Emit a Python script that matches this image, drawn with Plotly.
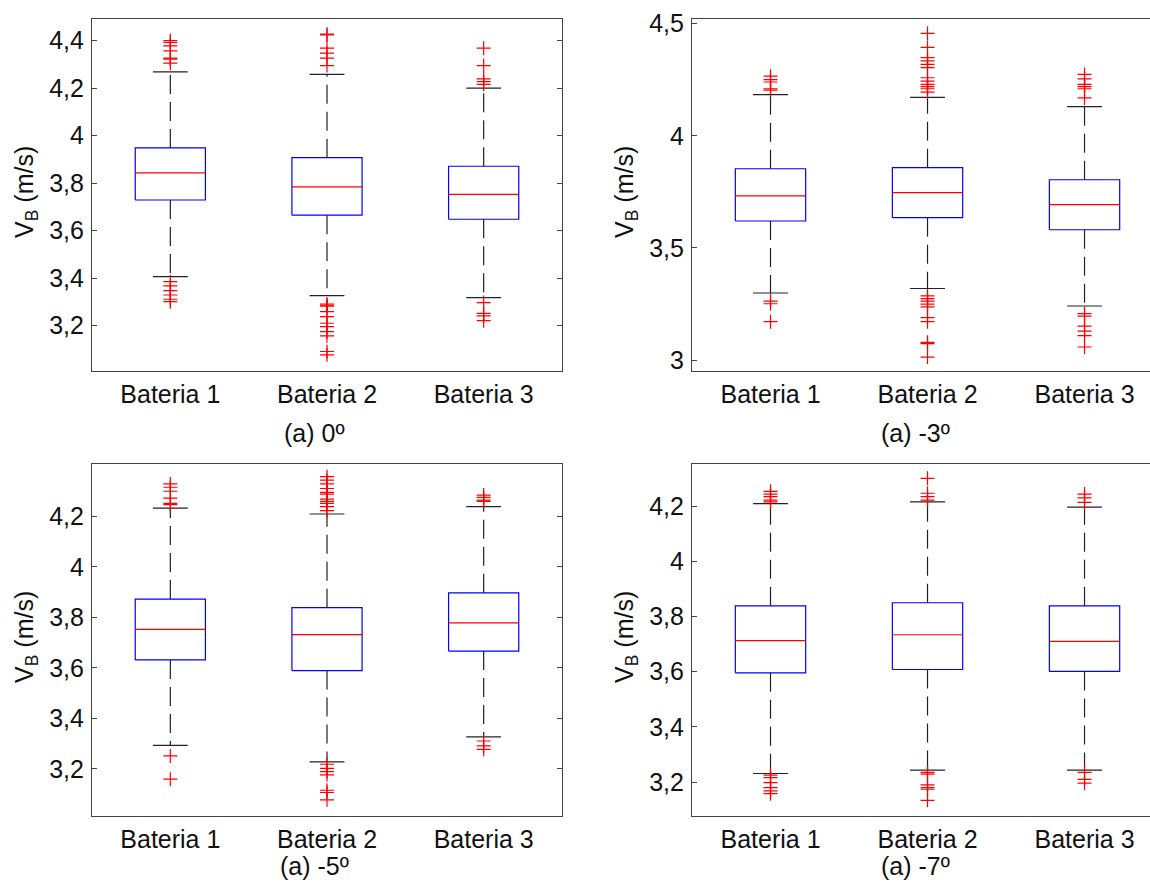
import plotly.graph_objects as go

# ---------------- data ----------------
categories = ["Bateria 1", "Bateria 2", "Bateria 3"]
titles = ["(a) 0º", "(a) -3º", "(a) -5º", "(a) -7º"]

# Panel (a) 0º
p0_q1 = [3.729, 3.665, 3.648]
p0_median = [3.843, 3.784, 3.753]
p0_q3 = [3.948, 3.907, 3.871]
p0_lower = [3.406, 3.326, 3.318]
p0_upper = [4.268, 4.258, 4.200]
p0_out1 = [4.400, 4.392, 4.378, 4.357, 4.326, 4.322, 4.305, 3.385, 3.367, 3.347, 3.329, 3.311, 3.301]
p0_out2 = [4.427, 4.424, 4.368, 4.347, 4.326, 4.295, 3.291, 3.286, 3.282, 3.259, 3.238, 3.210, 3.196,
           3.175, 3.157, 3.091, 3.077]
p0_out3 = [4.368, 4.295, 4.239, 4.227, 4.216, 3.297, 3.252, 3.241, 3.221]

# Panel (a) -3º
p1_q1 = [3.620, 3.635, 3.581]
p1_median = [3.732, 3.747, 3.693]
p1_q3 = [3.853, 3.858, 3.804]
p1_lower = [3.299, 3.319, 3.241]
p1_upper = [4.184, 4.171, 4.130]
p1_out1 = [4.266, 4.251, 4.240, 4.210, 4.204, 3.263, 3.251, 3.171]
p1_out2 = [4.457, 4.394, 4.349, 4.334, 4.319, 4.304, 4.259, 4.244, 4.229, 4.219, 4.210, 4.195,
           3.286, 3.274, 3.263, 3.249, 3.237, 3.189, 3.171, 3.079, 3.073, 3.013]
p1_out3 = [4.274, 4.254, 4.229, 4.219, 4.210, 4.169, 3.207, 3.196, 3.151, 3.129, 3.109, 3.058]

# Panel (a) -5º
p2_q1 = [3.631, 3.589, 3.666]
p2_median = [3.752, 3.731, 3.778]
p2_q3 = [3.872, 3.838, 3.897]
p2_lower = [3.293, 3.227, 3.326]
p2_upper = [4.232, 4.209, 4.238]
p2_out1 = [4.328, 4.315, 4.299, 4.272, 4.251, 4.246, 3.251, 3.159]
p2_out2 = [4.357, 4.343, 4.328, 4.310, 4.295, 4.288, 4.268, 4.259, 4.251, 4.238, 4.222,
           3.218, 3.202, 3.189, 3.176, 3.115, 3.106, 3.077]
p2_out3 = [4.284, 4.275, 4.264, 4.259, 3.310, 3.291, 3.277]

# Panel (a) -7º
p3_q1 = [3.596, 3.608, 3.601]
p3_median = [3.713, 3.734, 3.710]
p3_q3 = [3.839, 3.850, 3.839]
p3_lower = [3.231, 3.243, 3.243]
p3_upper = [4.209, 4.216, 4.197]
p3_out1 = [4.254, 4.244, 4.235, 4.222, 4.216, 3.225, 3.216, 3.198, 3.180, 3.168, 3.158]
p3_out2 = [4.301, 4.247, 4.235, 4.222, 3.235, 3.229, 3.190, 3.180, 3.174, 3.134]
p3_out3 = [4.244, 4.230, 4.214, 3.235, 3.210, 3.196]

# tick labels
p0_ticks = [3.2, 3.4, 3.6, 3.8, 4.0, 4.2, 4.4]
p0_ticktext = ["3,2", "3,4", "3,6", "3,8", "4", "4,2", "4,4"]
p1_ticks = [3.0, 3.5, 4.0, 4.5]
p1_ticktext = ["3", "3,5", "4", "4,5"]
p2_ticks = [3.2, 3.4, 3.6, 3.8, 4.0, 4.2]
p2_ticktext = ["3,2", "3,4", "3,6", "3,8", "4", "4,2"]
p3_ticks = [3.2, 3.4, 3.6, 3.8, 4.0, 4.2]
p3_ticktext = ["3,2", "3,4", "3,6", "3,8", "4", "4,2"]

panels = [
    dict(q1=p0_q1, med=p0_median, q3=p0_q3, lo=p0_lower, hi=p0_upper,
         out=[p0_out1, p0_out2, p0_out3], ticks=p0_ticks, ticktext=p0_ticktext),
    dict(q1=p1_q1, med=p1_median, q3=p1_q3, lo=p1_lower, hi=p1_upper,
         out=[p1_out1, p1_out2, p1_out3], ticks=p1_ticks, ticktext=p1_ticktext),
    dict(q1=p2_q1, med=p2_median, q3=p2_q3, lo=p2_lower, hi=p2_upper,
         out=[p2_out1, p2_out2, p2_out3], ticks=p2_ticks, ticktext=p2_ticktext),
    dict(q1=p3_q1, med=p3_median, q3=p3_q3, lo=p3_lower, hi=p3_upper,
         out=[p3_out1, p3_out2, p3_out3], ticks=p3_ticks, ticktext=p3_ticktext),
]

# ---------------- layout / style ----------------
W, H = 1150, 882
FONT = "Liberation Sans, Arial, sans-serif"
FS = 25
TXT = "#111111"
AX = "#444444"
BOX_HALF = 0.224
CAP_HALF = 0.111

y_ranges = [[3.009, 4.491], [2.951, 4.521], [3.013, 4.407], [3.077, 4.353]]
x_ranges = [[0.5, 3.5], [0.5, 3.417], [0.5, 3.5], [0.5, 3.417]]
# pixel boxes (left, right, top, bottom)
px = [(92, 562, 19, 371), (692, 1150, 19, 371), (92, 562, 464, 816), (692, 1150, 464, 816)]
caption_pos = [(315, 433), (915, 433), (315, 866), (915, 866)]

fig = go.Figure()
layout = dict(
    width=W, height=H, margin=dict(l=0, r=0, t=0, b=0, pad=0, autoexpand=False),
    autosize=False,
    paper_bgcolor="white", plot_bgcolor="white", showlegend=False,
    font=dict(family=FONT, size=FS, color=TXT),
    separators=", ",
)

annotations = []
for k, p in enumerate(panels):
    xa = "x" if k == 0 else f"x{k+1}"
    ya = "y" if k == 0 else f"y{k+1}"
    xs = [1, 2, 3]
    bx, by, mx, my, wx, wy, cx, cy, ox, oy = [], [], [], [], [], [], [], [], [], []
    for i, xc in enumerate(xs):
        q1, md, q3, lo, hi = p["q1"][i], p["med"][i], p["q3"][i], p["lo"][i], p["hi"][i]
        bx += [xc - BOX_HALF, xc + BOX_HALF, xc + BOX_HALF, xc - BOX_HALF, xc - BOX_HALF, None]
        by += [q1, q1, q3, q3, q1, None]
        mx += [xc - BOX_HALF, xc + BOX_HALF, None]
        my += [md, md, None]
        wx += [xc, xc, None, xc, xc, None]
        wy += [q3, hi, None, q1, lo, None]
        cx += [xc - CAP_HALF, xc + CAP_HALF, None, xc - CAP_HALF, xc + CAP_HALF, None]
        cy += [hi, hi, None, lo, lo, None]
        ox += [xc] * len(p["out"][i])
        oy += p["out"][i]
    fig.add_trace(go.Scatter(x=wx, y=wy, mode="lines", xaxis=xa, yaxis=ya,
                             line=dict(color="#222222", width=1.2, dash="19px,8px"), hoverinfo="skip"))
    fig.add_trace(go.Scatter(x=cx, y=cy, mode="lines", xaxis=xa, yaxis=ya,
                             line=dict(color="#222222", width=1.2), hoverinfo="skip"))
    fig.add_trace(go.Scatter(x=bx, y=by, mode="lines", xaxis=xa, yaxis=ya,
                             line=dict(color="#0000ff", width=1.2), hoverinfo="skip"))
    fig.add_trace(go.Scatter(x=mx, y=my, mode="lines", xaxis=xa, yaxis=ya,
                             line=dict(color="#ff0000", width=1.2), hoverinfo="skip"))
    fig.add_trace(go.Scatter(x=ox, y=oy, mode="markers", xaxis=xa, yaxis=ya,
                             marker=dict(symbol="cross-thin", size=10,
                                         line=dict(color="#ff0000", width=1.2)),
                             hoverinfo="skip"))

    l, r, t, b = px[k]
    right_col = k in (1, 3)
    xkey = "xaxis" if k == 0 else f"xaxis{k+1}"
    ykey = "yaxis" if k == 0 else f"yaxis{k+1}"
    layout[xkey] = dict(
        domain=[l / W, r / W], range=x_ranges[k], anchor=ya, automargin=False,
        tickvals=xs, ticktext=categories, ticks="", showgrid=False, zeroline=False,
        showline=True, linecolor=AX, linewidth=1.2, mirror=True,
        tickfont=dict(family=FONT, size=FS, color=TXT), ticklabelstandoff=1,
    )
    layout[ykey] = dict(
        domain=[1 - b / H, 1 - t / H], range=y_ranges[k], anchor=xa, automargin=False,
        tickvals=p["ticks"], ticktext=p["ticktext"], ticks="inside", ticklen=5,
        tickcolor=AX, showgrid=False, zeroline=False,
        showline=True, linecolor=AX, linewidth=1.2,
        mirror=False if right_col else "allticks",
        tickfont=dict(family=FONT, size=FS, color=TXT), ticklabelstandoff=2,
    )
    # y-axis title
    annotations.append(dict(
        text="V<sub>B</sub> (m/s)", textangle=-90, showarrow=False,
        xref="paper", yref="paper", x=(l - 66) / W, y=1 - ((t + b) / 2 - 3) / H,
        xanchor="center", yanchor="middle", font=dict(family=FONT, size=FS, color=TXT),
    ))
    # caption
    cxp, cyp = caption_pos[k]
    annotations.append(dict(
        text=titles[k], showarrow=False, xref="paper", yref="paper",
        x=cxp / W, y=1 - cyp / H, xanchor="center", yanchor="middle",
        font=dict(family=FONT, size=FS, color=TXT),
    ))

layout["annotations"] = annotations
fig.update_layout(**layout)
fig.write_html("out.html")
